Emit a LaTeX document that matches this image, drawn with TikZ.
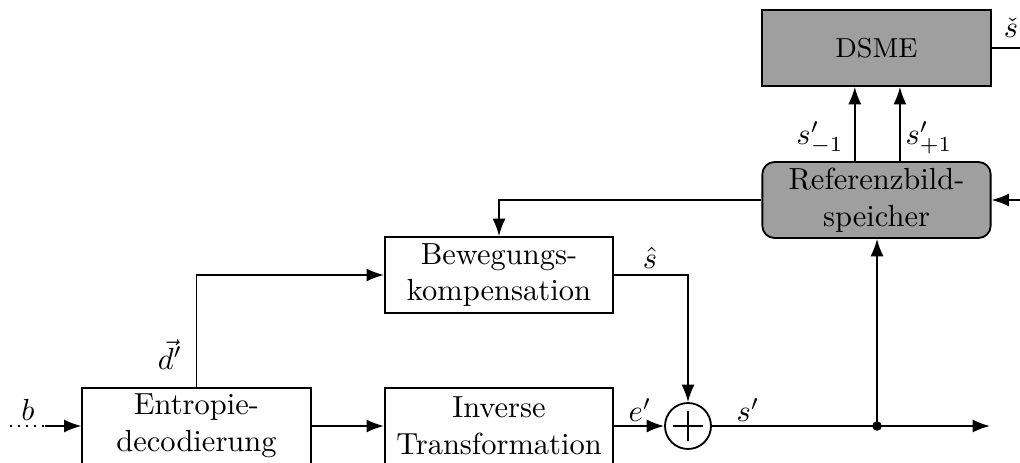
\documentclass[tikz,border=0pt]{standalone}
\usetikzlibrary{arrows.meta}

\tikzset{
  blk/.style={draw,line width=0.6pt,minimum width=2.63cm,minimum height=0.875cm,
    inner sep=0pt,align=center},
  grayblk/.style={blk,fill=gray!75},
  sumnode/.style={draw,line width=0.6pt,circle,minimum size=0.53cm,inner sep=0pt},
  conn/.style={line width=0.6pt}
}

\begin{document}
\begin{tikzpicture}[x=0.01152cm,y=-0.01152cm,>=Latex]
  \clip (0,0) rectangle (1020,463);

  \node[blk] (ent) at (196.5,426) {Entropie-\\decodierung};
  \node[blk] (inv) at (499,426) {Inverse\\Transformation};
  \node[blk] (bew) at (499,275) {Bewegungs-\\kompensation};
  \node[sumnode] (add) at (688,426) {};
  \draw[conn] ([xshift=-0.17cm]add.center) -- ([xshift=0.17cm]add.center);
  \draw[conn] ([yshift=-0.17cm]add.center) -- ([yshift=0.17cm]add.center);
  \node[grayblk,rounded corners=0.14cm] (ref) at (876.5,200) {Referenzbild-\\speicher};
  \node[grayblk,font=\small] (dsme) at (876.5,48) {DSME};

  \coordinate (bin) at (10,426);
  \coordinate (bmid) at (45,426);
  \coordinate (out) at (990,426);
  \coordinate (refin) at (1030,200);
  \coordinate (dout) at (1030,48);
  \coordinate (tap) at (877,426);

  % input
  \draw[conn,dotted] (bin) -- (bmid);
  \draw[conn,->] (bmid) -- (ent.west);
  \node at (28,410) {$b$};

  % forward path
  \draw[conn,->] (ent.east) -- (inv.west);
  \draw[conn,->] (inv.east) -- (add.west);
  \draw[conn,->] (add.east) -- (out);
  \fill (tap) circle (0.055cm);
  \draw[conn,->] (tap) -- (ref.south -| tap);
  \node at (640,410) {$e'$};
  \node at (748,410) {$s'$};

  % motion vectors and prediction
  \draw[conn,->] (ent.north) |- (bew.west);
  \node at (170,355) {$\vec{d}'$};
  \draw[conn,->] (bew.east) -| (add.north);
  \node at (650,258) {$\hat{s}$};
  \draw[conn,->] (ref.west) -| (bew.north);

  % reference frames to DSME
  \draw[conn,->] ([xshift=-0.25cm]ref.north) -- ([xshift=-0.25cm]dsme.south);
  \draw[conn,->] ([xshift=0.27cm]ref.north) -- ([xshift=0.27cm]dsme.south);
  \node at (820,138) {$s'_{-1}$};
  \node at (929,138) {$s'_{+1}$};

  \draw[conn] (dsme.east) -- (dout);
  \node at (1011,28) {$\check{s}$};
  \draw[conn,->] (refin) -- (ref.east);
\end{tikzpicture}
\end{document}
